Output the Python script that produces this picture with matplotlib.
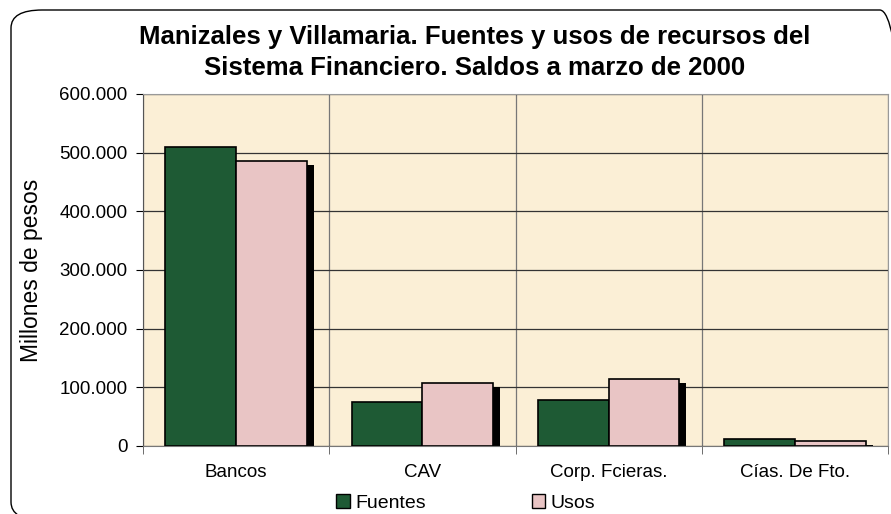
import matplotlib
matplotlib.use("Agg")
import matplotlib.pyplot as plt
import matplotlib.transforms as mtransforms
from matplotlib.patches import FancyBboxPatch, Patch
import numpy as np

categories = ["Bancos", "CAV", "Corp. Fcieras.", "Cías. De Fto."]
fuentes = [510000, 75500, 79000, 12000]
usos = [486000, 108000, 113500, 9000]
yticks = [0, 100000, 200000, 300000, 400000, 500000, 600000]
ytick_labels = ["0", "100.000", "200.000", "300.000", "400.000", "500.000", "600.000"]

plt.rcParams['font.family'] = ['Liberation Sans', 'DejaVu Sans']

fig = plt.figure(figsize=(8.91, 5.14), dpi=100)
fig.patch.set_facecolor("white")

# rounded chart border
border = FancyBboxPatch((11/891, 1 - 520/514), 900/891, 510/514,
                        boxstyle="round,pad=0,rounding_size=0.035",
                        transform=fig.transFigure, facecolor="none",
                        edgecolor="black", linewidth=1.0, zorder=0)
fig.patches.append(border)

ax = fig.add_axes([143/891, 1 - 446/514, (888 - 143)/891, (446 - 94)/514])
ax.set_facecolor("#FBEFD6")

x = np.arange(len(categories))
w = 0.38
green = "#1E5A34"
pink = "#E9C5C5"

shadow = mtransforms.offset_copy(ax.transData, fig=fig, x=7, y=-4, units='dots')
ax.bar(x + w/2, usos, w, color="black", transform=shadow, zorder=2, linewidth=0)
ax.bar(x - w/2, fuentes, w, color=green, edgecolor="black", linewidth=1.2, zorder=3)
ax.bar(x + w/2, usos, w, color=pink, edgecolor="black", linewidth=1.2, zorder=3)

ax.set_xlim(-0.5, len(categories) - 0.5)
ax.set_ylim(0, 600000)
ax.set_yticks(yticks)
ax.set_yticklabels(ytick_labels, fontsize=13.5)
ax.set_xticks(x)
ax.set_xticklabels(categories, fontsize=13.5)
ax.tick_params(axis='x', length=0, pad=13)
ax.tick_params(axis='y', length=5, direction='out', pad=6)
ax.set_xticks(np.arange(len(categories) + 1) - 0.5, minor=True)
ax.tick_params(axis='x', which='minor', length=6, direction='out', color="#555555")

ax.yaxis.grid(True, color="#333333", linewidth=0.9)
ax.xaxis.grid(True, which='minor', color="#777777", linewidth=0.9)
ax.set_axisbelow(True)
for s in ["top", "right"]:
    ax.spines[s].set_color("#999999")
ax.spines["left"].set_color("#555555")
ax.spines["bottom"].set_color("#777777")

ax.set_ylabel("Millones de pesos", fontsize=16.5)
ax.yaxis.set_label_coords((43 - 143) / 745, 0.5)

fig.text(0.533, 1 - 37/514, "Manizales y Villamaria. Fuentes y usos de recursos del",
         ha="center", va="center", fontsize=18.5, fontweight="bold")
fig.text(0.533, 1 - 68/514, "Sistema Financiero. Saldos a marzo de 2000",
         ha="center", va="center", fontsize=18.5, fontweight="bold")

handles = [Patch(facecolor=green, edgecolor="black"), Patch(facecolor=pink, edgecolor="black")]
fig.legend(handles, ["Fuentes", "Usos"], loc="center", bbox_to_anchor=(0.5225, 1 - 503/514),
           ncol=2, frameon=False, fontsize=14, handlelength=0.7, handleheight=0.7,
           handletextpad=0.25, columnspacing=5.45, borderpad=0)

fig.savefig("out.png", dpi=100)
